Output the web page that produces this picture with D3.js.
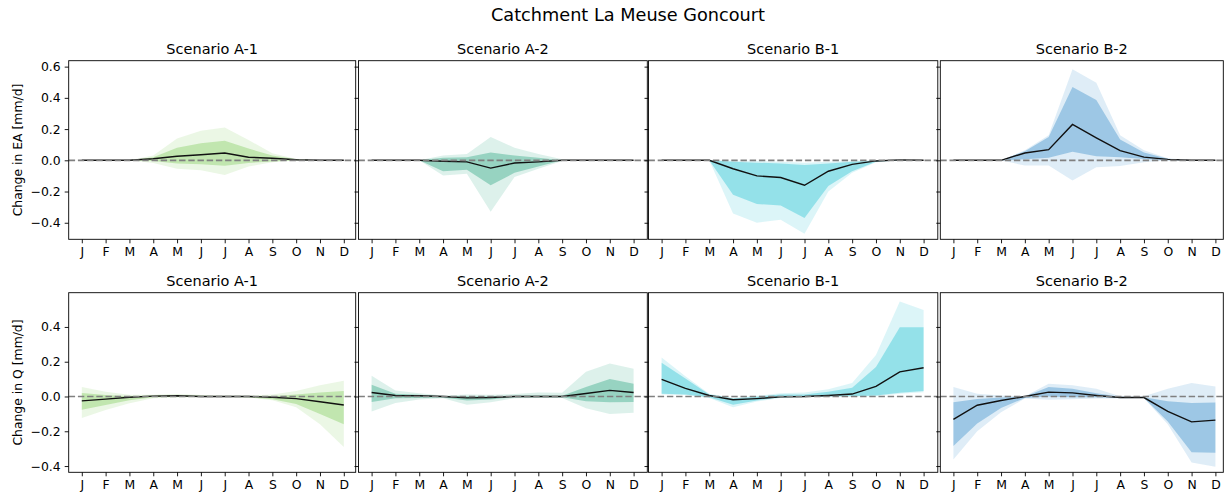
<!DOCTYPE html>
<html>
<head>
<meta charset="utf-8">
<script src="https://cdn.jsdelivr.net/npm/d3@7"></script>
<style>
  body { margin: 0; background: #fff; }
  text { font-family: "DejaVu Sans", sans-serif; fill: #000; }
</style>
</head>
<body>
<svg id="chart" width="1225" height="498"></svg>
<script>
// ---- data -------------------------------------------------------------
const months = ["J", "F", "M", "A", "M", "J", "J", "A", "S", "O", "N", "D"];
const scenarios = ["Scenario A-1", "Scenario A-2", "Scenario B-1", "Scenario B-2"];
const scenarioColors = ["#78c850", "#1b9e77", "#17becf", "#2a84c6"];
const eaTicks = [0.6, 0.4, 0.2, 0.0, -0.2, -0.4];
const qTicks = [0.4, 0.2, 0.0, -0.2, -0.4];

// Change in actual evaporation (EA), mm/d
const eaA1Median = [0, 0, 0, 0.01, 0.026, 0.036, 0.047, 0.02, 0.013, 0.004, 0, 0];
const eaA1InnerHi = [0, 0, 0, 0.02, 0.08, 0.11, 0.125, 0.075, 0.03, 0.006, 0, 0];
const eaA1InnerLo = [0, 0, 0, -0.005, -0.02, -0.025, -0.035, -0.017, -0.007, 0, 0, 0];
const eaA1OuterHi = [0, 0, 0, 0.03, 0.14, 0.19, 0.21, 0.13, 0.045, 0.008, 0, 0];
const eaA1OuterLo = [0, 0, 0, -0.017, -0.054, -0.064, -0.094, -0.04, -0.013, 0, 0, 0];

const eaA2Median = [0, 0, 0, -0.006, -0.01, -0.05, -0.017, -0.01, 0, 0, 0, 0];
const eaA2InnerHi = [0, 0, 0, 0.017, 0.02, 0.05, 0.03, 0.017, 0, 0, 0, 0];
const eaA2InnerLo = [0, 0, 0, -0.07, -0.06, -0.16, -0.08, -0.04, 0, 0, 0, 0];
const eaA2OuterHi = [0, 0, 0, 0.03, 0.04, 0.15, 0.08, 0.04, 0.006, 0, 0, 0];
const eaA2OuterLo = [0, 0, 0, -0.097, -0.086, -0.33, -0.107, -0.054, -0.004, 0, 0, 0];

const eaB1Median = [0, 0, 0, -0.054, -0.1, -0.11, -0.16, -0.07, -0.026, -0.004, 0.003, 0];
const eaB1InnerHi = [0, 0, 0, -0.01, -0.015, -0.02, -0.03, -0.02, -0.01, -0.003, 0.002, 0];
const eaB1InnerLo = [0, 0, 0, -0.22, -0.28, -0.29, -0.37, -0.165, -0.07, -0.01, 0, 0];
const eaB1OuterHi = [0, 0, 0, -0.003, -0.005, -0.01, -0.015, -0.01, -0.005, 0, 0.004, 0];
const eaB1OuterLo = [0, 0, 0, -0.34, -0.40, -0.38, -0.47, -0.2, -0.08, -0.013, 0, 0];

const eaB2Median = [0, 0, 0, 0.047, 0.068, 0.23, 0.144, 0.062, 0.02, 0.006, 0, 0];
const eaB2InnerHi = [0, 0, 0, 0.058, 0.15, 0.47, 0.386, 0.133, 0.05, 0.01, 0, 0];
const eaB2InnerLo = [0, 0, 0, 0.006, 0.017, 0.054, 0.026, 0.02, 0.008, 0, 0, 0];
const eaB2OuterHi = [0, 0, 0, 0.064, 0.16, 0.583, 0.497, 0.16, 0.064, 0.013, 0, 0];
const eaB2OuterLo = [0, 0, 0, -0.034, -0.034, -0.129, -0.045, -0.036, -0.013, 0, 0, 0];

// Change in discharge (Q), mm/d
const qA1Median = [-0.025, -0.015, -0.004, 0.002, 0.004, 0, 0, 0, -0.004, -0.012, -0.03, -0.049];
const qA1InnerHi = [0.02, 0.008, 0.002, 0.006, 0.008, 0.004, 0.002, 0.002, 0.002, 0.012, 0.023, 0.031];
const qA1InnerLo = [-0.076, -0.049, -0.021, -0.004, -0.002, -0.002, -0.002, -0.004, -0.016, -0.043, -0.1, -0.16];
const qA1OuterHi = [0.054, 0.027, 0.01, 0.01, 0.014, 0.008, 0.006, 0.006, 0.012, 0.031, 0.064, 0.09];
const qA1OuterLo = [-0.124, -0.078, -0.039, -0.01, -0.006, -0.004, -0.004, -0.006, -0.021, -0.062, -0.16, -0.29];

const qA2Median = [0.023, 0.006, 0.004, 0, -0.008, -0.006, 0, 0, 0, 0.017, 0.035, 0.023];
const qA2InnerHi = [0.068, 0.016, 0.01, 0.002, 0.002, 0.002, 0.004, 0.006, 0.004, 0.054, 0.1, 0.074];
const qA2InnerLo = [-0.031, -0.01, -0.008, -0.006, -0.023, -0.017, -0.004, -0.004, -0.004, -0.027, -0.033, -0.031];
const qA2OuterHi = [0.12, 0.035, 0.019, 0.006, 0.012, 0.01, 0.014, 0.023, 0.021, 0.142, 0.19, 0.16];
const qA2OuterLo = [-0.087, -0.037, -0.017, -0.01, -0.047, -0.033, -0.01, -0.008, -0.008, -0.068, -0.1, -0.093];

const qB1Median = [0.099, 0.047, 0.006, -0.019, -0.012, -0.002, 0, 0.006, 0.014, 0.058, 0.142, 0.165];
const qB1InnerHi = [0.194, 0.103, 0.012, -0.012, -0.002, 0.012, 0.012, 0.027, 0.05, 0.17, 0.398, 0.398];
const qB1InnerLo = [0.016, 0.012, -0.004, -0.047, -0.023, -0.004, -0.002, 0, 0.002, 0.006, 0.021, 0.031];
const qB1OuterHi = [0.225, 0.117, 0.016, -0.008, 0.004, 0.019, 0.023, 0.041, 0.078, 0.239, 0.546, 0.497];
const qB1OuterLo = [0.012, 0.008, -0.008, -0.062, -0.029, -0.008, -0.004, -0.002, 0, 0.002, 0.016, 0.025];

const qB2Median = [-0.132, -0.05, -0.023, 0, 0.025, 0.021, 0.006, -0.006, -0.006, -0.085, -0.146, -0.136];
const qB2InnerHi = [-0.033, -0.014, -0.006, 0, 0.054, 0.045, 0.019, -0.002, -0.004, -0.027, -0.037, -0.035];
const qB2InnerLo = [-0.285, -0.155, -0.066, -0.008, 0, -0.004, -0.004, -0.008, -0.008, -0.144, -0.32, -0.324];
const qB2OuterHi = [0.054, 0.016, 0.006, 0.002, 0.074, 0.064, 0.045, 0.002, 0.002, 0.045, 0.078, 0.058];
const qB2OuterLo = [-0.363, -0.2, -0.091, -0.012, -0.019, -0.016, -0.012, -0.012, -0.01, -0.16, -0.379, -0.404];

// ---- layout -----------------------------------------------------------
const colLeft = [68.7, 358.5, 648.5, 940.3];
const colRight = [355.7, 647.3, 937.8, 1223.3];
const monthPad = 13.1;       // inner margin before the first month
const monthSpan = 262;       // J..D distance in px
const tickFont = "12.4px";

const rows = [
  {
    label: "Change in EA [mm/d]", top: 60.7, bottom: 239.3, domain: [-0.506, 0.638], ticks: eaTicks,
    panels: [
      [eaA1Median, eaA1InnerLo, eaA1InnerHi, eaA1OuterLo, eaA1OuterHi],
      [eaA2Median, eaA2InnerLo, eaA2InnerHi, eaA2OuterLo, eaA2OuterHi],
      [eaB1Median, eaB1InnerLo, eaB1InnerHi, eaB1OuterLo, eaB1OuterHi],
      [eaB2Median, eaB2InnerLo, eaB2InnerHi, eaB2OuterLo, eaB2OuterHi]
    ]
  },
  {
    label: "Change in Q [mm/d]", top: 292.7, bottom: 472.3, domain: [-0.436, 0.597], ticks: qTicks,
    panels: [
      [qA1Median, qA1InnerLo, qA1InnerHi, qA1OuterLo, qA1OuterHi],
      [qA2Median, qA2InnerLo, qA2InnerHi, qA2OuterLo, qA2OuterHi],
      [qB1Median, qB1InnerLo, qB1InnerHi, qB1OuterLo, qB1OuterHi],
      [qB2Median, qB2InnerLo, qB2InnerHi, qB2OuterLo, qB2OuterHi]
    ]
  }
];

const svg = d3.select("#chart");
const fmt = v => d3.format(".1f")(v).replace("-", "\u2212");

svg.append("text")
  .attr("x", 628).attr("y", 21)
  .attr("text-anchor", "middle")
  .style("font-size", "17.7px")
  .text("Catchment La Meuse Goncourt");

rows.forEach((row, r) => {
  const y = d3.scaleLinear().domain(row.domain).range([row.bottom, row.top]);

  // row y label
  svg.append("text")
    .attr("transform", `translate(21.5,${(row.top + row.bottom) / 2}) rotate(-90)`)
    .attr("text-anchor", "middle")
    .style("font-size", tickFont)
    .text(row.label);

  row.panels.forEach((series, c) => {
    const [median, innerLo, innerHi, outerLo, outerHi] = series;
    const color = scenarioColors[c];
    const x = d3.scaleLinear().domain([0, 11])
      .range([colLeft[c] + monthPad, colLeft[c] + monthPad + monthSpan]);
    const g = svg.append("g");

    const clipId = `clip-${r}-${c}`;
    g.append("clipPath").attr("id", clipId)
      .append("rect")
      .attr("x", colLeft[c]).attr("y", row.top)
      .attr("width", colRight[c] - colLeft[c]).attr("height", row.bottom - row.top);

    const plot = g.append("g").attr("clip-path", `url(#${clipId})`);

    const band = (lo, hi) => d3.area()
      .x((d, i) => x(i))
      .y0((d, i) => y(lo[i]))
      .y1((d, i) => y(hi[i]))(months);

    plot.append("path").attr("d", band(outerLo, outerHi))
      .attr("fill", color).attr("fill-opacity", 0.15);
    plot.append("path").attr("d", band(innerLo, innerHi))
      .attr("fill", color).attr("fill-opacity", 0.36);

    plot.append("path")
      .attr("d", d3.line().x((d, i) => x(i)).y(d => y(d))(median))
      .attr("fill", "none").attr("stroke", "#111").attr("stroke-width", 1.4);

    plot.append("line")
      .attr("x1", colLeft[c]).attr("x2", colRight[c])
      .attr("y1", y(0)).attr("y2", y(0))
      .attr("stroke", "#808080").attr("stroke-width", 1.7)
      .attr("stroke-dasharray", "6.4,2.8");

    // axes
    const xAxis = d3.axisBottom(x)
      .tickValues(d3.range(12))
      .tickFormat(i => months[i])
      .tickSize(4).tickPadding(4);
    const gx = g.append("g").attr("transform", `translate(0,${row.bottom})`).call(xAxis);
    gx.select(".domain").remove();

    const yAxis = d3.axisLeft(y)
      .tickValues(row.ticks)
      .tickFormat(c === 0 ? fmt : () => "")
      .tickSize(4).tickPadding(4);
    const gy = g.append("g").attr("transform", `translate(${colLeft[c]},0)`).call(yAxis);
    gy.select(".domain").remove();

    [gx, gy].forEach(a => {
      a.selectAll("text").style("font-size", tickFont).style("font-family", '"DejaVu Sans", sans-serif').attr("fill", "#000");
      a.selectAll("line").attr("stroke", "#000").attr("stroke-width", 0.9);
    });

    g.append("rect")
      .attr("x", colLeft[c]).attr("y", row.top)
      .attr("width", colRight[c] - colLeft[c]).attr("height", row.bottom - row.top)
      .attr("fill", "none").attr("stroke", "#000").attr("stroke-width", 0.9);

    svg.append("text")
      .attr("x", (colLeft[c] + colRight[c]) / 2)
      .attr("y", row.top - 7)
      .attr("text-anchor", "middle")
      .style("font-size", "14.5px")
      .text(scenarios[c]);
  });
});
</script>
</body>
</html>
